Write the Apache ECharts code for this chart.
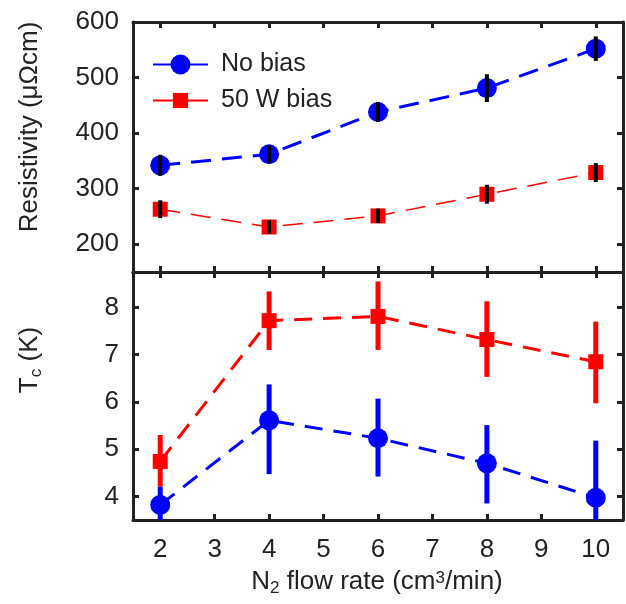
<!DOCTYPE html>
<html>
<head>
<meta charset="utf-8">
<script src="https://cdn.jsdelivr.net/npm/echarts@6/dist/echarts.min.js"></script>
<style>
  html, body { margin: 0; padding: 0; background: #fff; }
  #chart { width: 626px; height: 604px; }
</style>
</head>
<body>
<div id="chart"></div>
<script>
// N2 flow rate (cm3/min)
const flowRates = [2, 4, 6, 8, 10];
const xTicks = [2, 3, 4, 5, 6, 7, 8, 9, 10];

// Resistivity (µΩcm) with error
const resNoBias = [342, 362, 438, 481, 552];
const resNoBiasErr = [19, 16, 18, 25, 22];
const resBias50 = [263, 231, 251, 290, 329];
const resBias50Err = [16, 12, 13, 17, 17];
const resTicks = [200, 300, 400, 500, 600];

// Critical temperature Tc (K) with lower / upper bounds
const tcNoBias = [3.82, 5.61, 5.23, 4.70, 3.97];
const tcNoBiasLow = [3.40, 4.47, 4.42, 3.85, 2.80];
const tcNoBiasHigh = [4.21, 6.37, 6.07, 5.51, 5.18];
const tcBias50 = [4.74, 7.72, 7.81, 7.32, 6.85];
const tcBias50Low = [4.21, 7.10, 7.10, 6.53, 5.97];
const tcBias50High = [5.30, 8.34, 8.55, 8.13, 7.70];
const tcTicks = [4, 5, 6, 7, 8];

const BLUE = '#0000ff';
const RED = '#ff0000';
const INK = '#222222';
const FONT = '"Liberation Sans", Arial, sans-serif';

const pairs = (xs, ys) => xs.map((x, i) => [x, ys[i]]);
const bars = (xs, lo, hi) => xs.map((x, i) => [x, lo[i], hi[i]]);

function errorBarSeries(data, xi, yi, color, width, z) {
  return {
    type: 'custom',
    xAxisIndex: xi,
    yAxisIndex: yi,
    z: z,
    silent: true,
    encode: { x: 0, y: [1, 2] },
    data: data,
    renderItem: function (params, api) {
      const cs = params.coordSys;
      const x = api.value(0);
      const p1 = api.coord([x, api.value(1)]);
      const p2 = api.coord([x, api.value(2)]);
      const top = cs.y, bottom = cs.y + cs.height;
      const y1 = Math.min(Math.max(p1[1], top), bottom);
      const y2 = Math.min(Math.max(p2[1], top), bottom);
      return {
        type: 'line',
        shape: { x1: p1[0], y1: y1, x2: p2[0], y2: y2 },
        style: { stroke: color, lineWidth: width }
      };
    }
  };
}

function frameX(gridIndex, position, showLabels) {
  return {
    type: 'value',
    gridIndex: gridIndex,
    position: position,
    min: 1.5,
    max: 10.5,
    axisLine: { show: true, onZero: false, lineStyle: { color: INK, width: 3 } },
    axisTick: { show: true, inside: true, length: 6, customValues: xTicks, lineStyle: { color: INK, width: 3 } },
    axisLabel: showLabels
      ? { show: true, customValues: xTicks, margin: 17, color: INK, fontSize: 26, fontFamily: FONT }
      : { show: false },
    splitLine: { show: false }
  };
}

function frameY(gridIndex, position, min, max, ticks, showLabels) {
  return {
    type: 'value',
    gridIndex: gridIndex,
    position: position,
    min: min,
    max: max,
    axisLine: { show: true, onZero: false, lineStyle: { color: INK, width: 3 } },
    axisTick: { show: true, inside: true, length: 6, customValues: ticks, lineStyle: { color: INK, width: 3 } },
    axisLabel: showLabels
      ? { show: true, customValues: ticks, margin: 14, color: INK, fontSize: 26, fontFamily: FONT }
      : { show: false },
    splitLine: { show: false }
  };
}

const legendText = { color: INK, fontSize: 25, fontFamily: FONT, padding: [0, 0, 0, 8] };

const option = {
  animation: false,
  backgroundColor: '#ffffff',
  grid: [
    { left: 133, width: 490, top: 22, height: 250 },
    { left: 133, width: 490, top: 272, height: 248 }
  ],
  legend: [
    {
      data: ['No bias'], left: 147, top: 47, itemWidth: 55, itemHeight: 25,
      lineStyle: { type: 'solid' }, textStyle: legendText, selectedMode: false
    },
    {
      data: ['50 W bias'], left: 147, top: 83, itemWidth: 55, itemHeight: 19,
      lineStyle: { type: 'solid' }, textStyle: legendText, selectedMode: false
    }
  ],
  xAxis: [
    frameX(0, 'bottom', false),
    frameX(0, 'top', false),
    frameX(1, 'bottom', true),
    frameX(1, 'top', false)
  ],
  yAxis: [
    frameY(0, 'left', 150, 600, resTicks, true),
    frameY(0, 'right', 150, 600, resTicks, false),
    frameY(1, 'left', 3.5, 8.75, tcTicks, true),
    frameY(1, 'right', 3.5, 8.75, tcTicks, false)
  ],
  series: [
    // Resistivity
    {
      name: 'No bias', type: 'line', xAxisIndex: 0, yAxisIndex: 0, z: 3,
      data: pairs(flowRates, resNoBias),
      symbol: 'circle', symbolSize: 20,
      itemStyle: { color: BLUE },
      lineStyle: { color: BLUE, width: 3, type: [20, 11] }
    },
    {
      name: '50 W bias', type: 'line', xAxisIndex: 0, yAxisIndex: 0, z: 3,
      data: pairs(flowRates, resBias50),
      symbol: 'rect', symbolSize: 15,
      itemStyle: { color: RED },
      lineStyle: { color: RED, width: 1.5, type: [20, 11] }
    },
    errorBarSeries(bars(flowRates, resNoBias.map((v, i) => v - resNoBiasErr[i]), resNoBias.map((v, i) => v + resNoBiasErr[i])), 0, 0, '#000000', 4, 5),
    errorBarSeries(bars(flowRates, resBias50.map((v, i) => v - resBias50Err[i]), resBias50.map((v, i) => v + resBias50Err[i])), 0, 0, '#000000', 4, 5),
    // Tc
    {
      name: 'No bias', type: 'line', xAxisIndex: 2, yAxisIndex: 2, z: 3,
      data: pairs(flowRates, tcNoBias),
      symbol: 'circle', symbolSize: 20,
      itemStyle: { color: BLUE },
      lineStyle: { color: BLUE, width: 3, type: [18, 11] }
    },
    {
      name: '50 W bias', type: 'line', xAxisIndex: 2, yAxisIndex: 2, z: 3,
      data: pairs(flowRates, tcBias50),
      symbol: 'rect', symbolSize: 15,
      itemStyle: { color: RED },
      lineStyle: { color: RED, width: 3, type: [18, 11] }
    },
    errorBarSeries(bars(flowRates, tcNoBiasLow, tcNoBiasHigh), 2, 2, BLUE, 5, 4),
    errorBarSeries(bars(flowRates, tcBias50Low, tcBias50High), 2, 2, RED, 5, 4)
  ],
  graphic: [
    {
      type: 'text', x: 30, y: 127, rotation: Math.PI / 2,
      style: {
        text: 'Resistivity (μΩcm)', fill: INK, fontSize: 26, fontFamily: FONT,
        align: 'center', verticalAlign: 'middle'
      }
    },
    {
      type: 'text', x: 30, y: 360, rotation: Math.PI / 2,
      style: {
        text: 'T{s|c} (K)', fill: INK, fontSize: 26, fontFamily: FONT,
        lineHeight: 30, align: 'center', verticalAlign: 'middle',
        rich: { s: { fontSize: 17, fontFamily: FONT, fill: INK, lineHeight: 30, verticalAlign: 'bottom' } }
      }
    },
    {
      type: 'text', x: 377, y: 582,
      style: {
        text: 'N{s|2} flow rate (cm{p|3}/min)', fill: INK, fontSize: 26, fontFamily: FONT,
        lineHeight: 30, align: 'center', verticalAlign: 'middle',
        rich: {
          s: { fontSize: 17, fontFamily: FONT, fill: INK, lineHeight: 30, verticalAlign: 'bottom' },
          p: { fontSize: 17, fontFamily: FONT, fill: INK, lineHeight: 30, verticalAlign: 'top', padding: [3, 0, 0, 0] }
        }
      }
    }
  ]
};

const chart = echarts.init(document.getElementById('chart'), null, { renderer: 'canvas' });
chart.setOption(option);
</script>
</body>
</html>
